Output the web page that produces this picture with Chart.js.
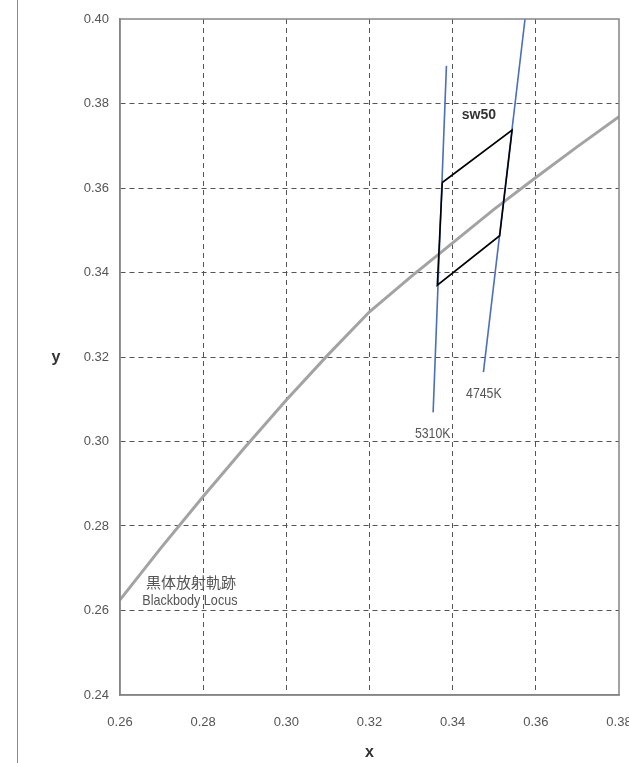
<!DOCTYPE html>
<html>
<head>
<meta charset="utf-8">
<script src="https://cdn.jsdelivr.net/npm/chart.js@4/dist/chart.umd.min.js"></script>
<style>
  html, body { margin:0; padding:0; background:#fff; }
  #wrap { position:relative; width:629px; height:763px; }
  #edge { position:absolute; left:17px; top:0; width:0; height:763px; border-left:1.5px solid #8a8a8a; }
</style>
</head>
<body>
<div id="wrap">
  <div id="edge"></div>
  <canvas id="chart" width="629" height="763"></canvas>
</div>
<script>
/* Blackbody locus */
const locusX = [0.26, 0.27, 0.28, 0.29, 0.30, 0.31, 0.32, 0.33, 0.34, 0.35, 0.36, 0.37, 0.38];
const locusY = [0.2625, 0.2750, 0.2870, 0.2986, 0.3098, 0.3205, 0.3307, 0.3390, 0.3470, 0.3550, 0.3625, 0.3698, 0.3769];

/* isotherms */
const iso5310X = [0.3353, 0.3385];
const iso5310Y = [0.3069, 0.3889];
const iso4745X = [0.3474, 0.3574];
const iso4745Y = [0.3164, 0.40];

/* sw50 bin quadrilateral */
const binX = [0.3375, 0.3543, 0.3513, 0.3363, 0.3375];
const binY = [0.3613, 0.3737, 0.3487, 0.3370, 0.3613];

/* axes */
const xTicks = [0.26, 0.28, 0.30, 0.32, 0.34, 0.36, 0.38];
const yTicks = [0.24, 0.26, 0.28, 0.30, 0.32, 0.34, 0.36, 0.38, 0.40];

/* annotations */
const noteText = ['sw50', '4745K', '5310K', '黒体放射軌跡', 'Blackbody Locus'];
const noteX = [0.3463, 0.3475, 0.3352, 0.2771, 0.2768];
const noteY = [0.3773, 0.3112, 0.3018, 0.2667, 0.2622];

const SANS = "'Liberation Sans', Arial, sans-serif";
const TICK_COLOR = '#555';
const GRID_COLOR = '#555';
const AXIS_COLOR = '#858585';

const pts = (xs, ys) => xs.map((x, i) => ({ x, y: ys[i] }));

// font, colour, horizontal squeeze (the original uses a condensed face)
const noteFonts = [
  "bold 14px " + SANS,
  "15px " + SANS,
  "15px " + SANS,
  "15px 'Noto Sans CJK JP', sans-serif",
  "15px " + SANS
];
const noteColors = ['#333', '#555', '#555', '#555', '#555'];
const noteSqueeze = [1, 0.82, 0.82, 1, 0.84];

const annotate = {
  id: 'annotate',
  afterDatasetsDraw(chart) {
    const { ctx, chartArea: a, scales: { x, y } } = chart;
    ctx.save();
    // top/right frame
    ctx.strokeStyle = AXIS_COLOR;
    ctx.lineWidth = 1.5;
    ctx.strokeRect(a.left, a.top, a.right - a.left, a.bottom - a.top);
    ctx.textAlign = 'center';
    ctx.textBaseline = 'middle';
    noteText.forEach((t, i) => {
      ctx.save();
      ctx.font = noteFonts[i];
      ctx.fillStyle = noteColors[i];
      ctx.translate(x.getPixelForValue(noteX[i]), y.getPixelForValue(noteY[i]));
      ctx.scale(noteSqueeze[i], 1);
      ctx.fillText(t, 0, 0);
      ctx.restore();
    });
    // upright y axis title
    ctx.font = "bold 16px " + SANS;
    ctx.fillStyle = '#333';
    ctx.fillText('y', 56, (a.top + a.bottom) / 2 + 1);
    ctx.restore();
  }
};

const edgeGrid = (vals) => (c) => {
  const v = c.tick ? c.tick.value : null;
  return (v !== null && (Math.abs(v - vals[0]) < 1e-6 || Math.abs(v - vals[vals.length - 1]) < 1e-6)) ? 'rgba(0,0,0,0)' : GRID_COLOR;
};

new Chart(document.getElementById('chart'), {
  type: 'scatter',
  data: {
    datasets: [
      { label: 'sw50', data: pts(binX, binY), showLine: true, borderColor: '#000', borderWidth: 1.6, pointRadius: 0, order: 1 },
      { label: '4745K', data: pts(iso4745X, iso4745Y), showLine: true, borderColor: '#4a6fbf', borderWidth: 1.6, pointRadius: 0, order: 2 },
      { label: '5310K', data: pts(iso5310X, iso5310Y), showLine: true, borderColor: '#4a6fbf', borderWidth: 1.6, pointRadius: 0, order: 3 },
      { label: 'Blackbody Locus', data: pts(locusX, locusY), showLine: true, borderColor: '#a3a3a3', borderWidth: 3, pointRadius: 0, tension: 0, order: 4 }
    ]
  },
  options: {
    responsive: false,
    animation: false,
    layout: { padding: { left: 0, right: 10, top: 19, bottom: 0 } },
    plugins: { legend: { display: false }, tooltip: { enabled: false } },
    scales: {
      x: {
        type: 'linear', min: xTicks[0], max: xTicks[xTicks.length - 1],
        afterBuildTicks: s => { s.ticks = xTicks.map(v => ({ value: v })); },
        afterFit: s => { s.height = 68; s.paddingLeft = 0; s.paddingRight = 0; },
        ticks: { padding: 20, color: TICK_COLOR, font: { family: SANS, size: 13 }, callback: v => v.toFixed(2), maxRotation: 0 },
        grid: { color: edgeGrid(xTicks), lineWidth: 1, drawTicks: false },
        border: { display: true, color: AXIS_COLOR, width: 1.5, dash: [5, 4] },
        title: { display: true, text: 'x', color: '#333', font: { family: SANS, size: 16, weight: 'bold' }, padding: { top: 0, bottom: 1 } }
      },
      y: {
        type: 'linear', min: yTicks[0], max: yTicks[yTicks.length - 1],
        afterBuildTicks: s => { s.ticks = yTicks.map(v => ({ value: v })); },
        afterFit: s => { s.width = 120; s.paddingTop = 0; s.paddingBottom = 0; },
        ticks: { padding: 11, color: TICK_COLOR, font: { family: SANS, size: 13 }, callback: v => v.toFixed(2) },
        grid: { color: edgeGrid(yTicks), lineWidth: 1, drawTicks: false },
        border: { display: true, color: AXIS_COLOR, width: 1.5, dash: [5, 4] }
      }
    }
  },
  plugins: [annotate]
});
</script>
</body>
</html>
